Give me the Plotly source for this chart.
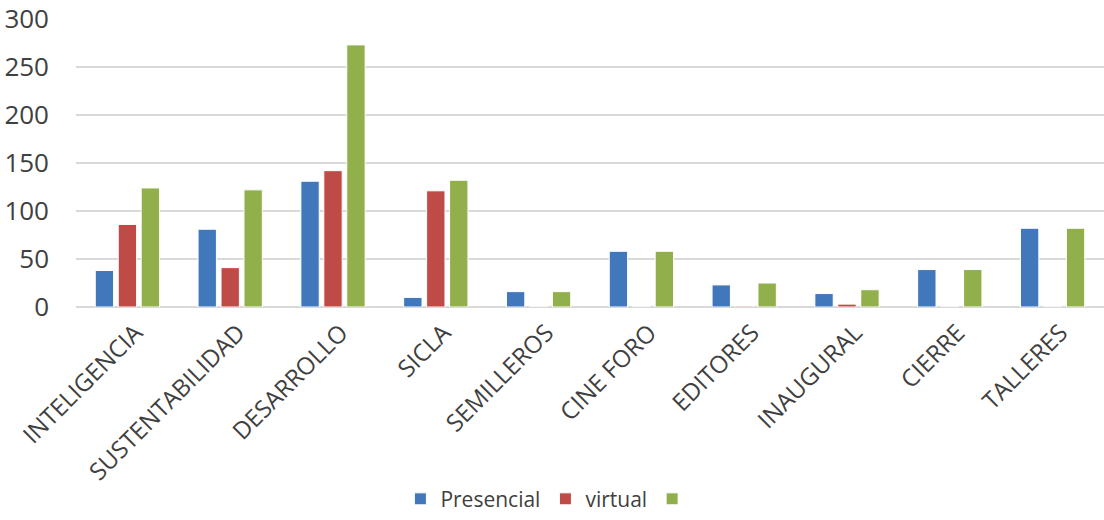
import plotly.graph_objects as go

categories = ["INTELIGENCIA", "SUSTENTABILIDAD", "DESARROLLO", "SICLA", "SEMILLEROS",
              "CINE FORO", "EDITORES", "INAUGURAL", "CIERRE", "TALLERES"]
presencial = [38, 81, 131, 10, 16, 58, 23, 14, 39, 82]
virtual = [86, 41, 142, 121, 0, 0, 1, 3, 0, 0]
total = [124, 122, 273, 132, 16, 58, 25, 18, 39, 82]
series_names = ["Presencial", "virtual", ""]
colors = ["#4178BC", "#BF4B47", "#91B04C"]
y_ticks = [0, 50, 100, 150, 200, 250, 300]

fig = go.Figure()
for name, vals, col in zip(series_names, [presencial, virtual, total], colors):
    fig.add_trace(go.Bar(x=categories, y=vals, name=name, showlegend=True,
                         marker=dict(color=col, line=dict(color="white", width=1))))

font_fam = "Open Sans, sans-serif"
fig.update_layout(
    width=1104, height=520,
    margin=dict(l=76, r=0, t=18, b=211),
    paper_bgcolor="white", plot_bgcolor="white",
    barmode="group", bargap=0.33, bargroupgap=0.2,
    font=dict(family=font_fam, color="#404040"),
    legend=dict(orientation="h", x=0.46, xanchor="center", y=-0.665, yanchor="middle",
                font=dict(size=21, color="#404040")),
    xaxis=dict(tickangle=-45, tickfont=dict(size=24, color="#404040"),
               showline=False, showgrid=False, automargin=False,
               ticklabelstandoff=6, ticklabelshift=8),
    yaxis=dict(range=[0, 301], tickvals=y_ticks, ticktext=[str(v) for v in y_ticks],
               tickfont=dict(size=26, color="#404040"), showgrid=True,
               gridcolor="#D9D9D9", gridwidth=2, zeroline=True, zerolinecolor="#D9D9D9",
               zerolinewidth=2, ticklabelstandoff=26, automargin=False),
)
fig.write_html("out.html", config={"displayModeBar": False},
               post_script="document.body.style.margin='0px';")
